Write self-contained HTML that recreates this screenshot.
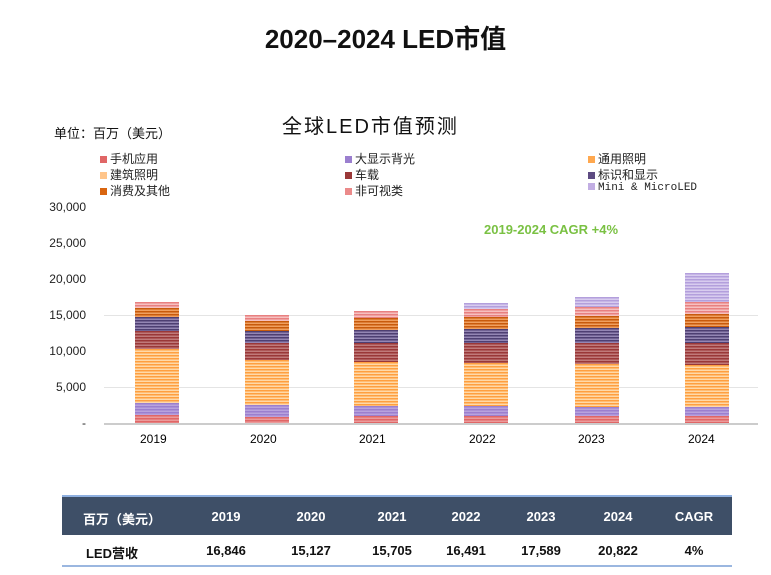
<!DOCTYPE html><html><head><meta charset="utf-8"><style>
body{margin:0;width:771px;height:575px;background:#fff;position:relative;overflow:hidden;font-family:"Liberation Sans","Noto Sans CJK SC",sans-serif}
.a{position:absolute}
.t{white-space:nowrap}
.lg{position:absolute;font-size:12px;color:#222;white-space:nowrap}
.lg i{display:inline-block;width:7px;height:7px;margin-right:3px;vertical-align:0}
.yl{position:absolute;right:685px;font-size:12px;color:#222;text-align:right}
.c{position:absolute;transform:translateX(-50%);white-space:nowrap;font-weight:bold;font-size:13px}
</style></head><body>
<div class="a t" style="left:0;width:771px;top:19px;text-align:center;font-size:26px;font-weight:bold;color:#111">2020–2024 LED市值</div>
<div class="a t" style="left:282px;top:110px;font-size:20px;letter-spacing:2px;color:#111">全球LED市值预测</div>
<div class="a t" style="left:54px;top:123px;font-size:13px;color:#111">单位：百万（美元）</div>
<div class="lg" style="left:100px;top:150px"><i style="background:#e06666"></i>手机应用</div>
<div class="lg" style="left:100px;top:166px"><i style="background:#ffc58a"></i>建筑照明</div>
<div class="lg" style="left:100px;top:182px"><i style="background:#d9650f"></i>消费及其他</div>
<div class="lg" style="left:345px;top:150px"><i style="background:#9b7fcf"></i>大显示背光</div>
<div class="lg" style="left:345px;top:166px"><i style="background:#9a3838"></i>车载</div>
<div class="lg" style="left:345px;top:182px"><i style="background:#eb8a8a"></i>非可视类</div>
<div class="lg" style="left:588px;top:150px"><i style="background:#ffa84f"></i>通用照明</div>
<div class="lg" style="left:588px;top:166px"><i style="background:#5d4b82"></i>标识和显示</div>
<div class="lg" style="left:588px;top:182px;font-family:'Liberation Mono','Noto Sans CJK SC',monospace;font-size:11px"><i style="background:#c2aee3"></i>Mini &amp; MicroLED</div>
<div class="yl" style="top:200px">30,000</div>
<div class="yl" style="top:236px">25,000</div>
<div class="yl" style="top:272px">20,000</div>
<div class="yl" style="top:308px">15,000</div>
<div class="yl" style="top:344px">10,000</div>
<div class="yl" style="top:380px">5,000</div>
<div class="yl" style="top:416px">-</div>
<div class="a" style="left:104px;width:654px;top:315px;height:1px;background:#e4e4e4"></div>
<div class="a" style="left:104px;width:654px;top:387px;height:1px;background:#e4e4e4"></div>
<div class="a" style="left:104px;width:654px;top:423px;height:2px;background:#ccc"></div>
<div class="a t" style="left:484px;top:222px;font-size:13px;font-weight:bold;color:#7ac143">2019-2024 CAGR +4%</div>
<div id="bars"></div>
<div class="a t" style="left:140px;top:432px;font-size:12px">2019</div>
<div class="a t" style="left:250px;top:432px;font-size:12px">2020</div>
<div class="a t" style="left:359px;top:432px;font-size:12px">2021</div>
<div class="a t" style="left:469px;top:432px;font-size:12px">2022</div>
<div class="a t" style="left:578px;top:432px;font-size:12px">2023</div>
<div class="a t" style="left:688px;top:432px;font-size:12px">2024</div>
<div class="a" style="left:62px;width:670px;top:495px;height:2px;background:#8fb0e0"></div>
<div class="a" style="left:62px;width:670px;top:497px;height:38px;background:#3e4f67"></div>
<div class="a" style="left:62px;width:670px;top:565px;height:2px;background:#9bb7e0"></div>
<div style="color:#fff">
<div class="c" style="left:122px;top:509px">百万（美元）</div>
<div class="c" style="left:226px;top:509px">2019</div>
<div class="c" style="left:311px;top:509px">2020</div>
<div class="c" style="left:392px;top:509px">2021</div>
<div class="c" style="left:466px;top:509px">2022</div>
<div class="c" style="left:541px;top:509px">2023</div>
<div class="c" style="left:618px;top:509px">2024</div>
<div class="c" style="left:694px;top:509px">CAGR</div>
</div>
<div style="color:#111">
<div class="c" style="left:112px;top:543px">LED营收</div>
<div class="c" style="left:226px;top:543px">16,846</div>
<div class="c" style="left:311px;top:543px">15,127</div>
<div class="c" style="left:392px;top:543px">15,705</div>
<div class="c" style="left:466px;top:543px">16,491</div>
<div class="c" style="left:541px;top:543px">17,589</div>
<div class="c" style="left:618px;top:543px">20,822</div>
<div class="c" style="left:694px;top:543px">4%</div>
</div>
<script>
var cols=[["#e06666","#eb9a9a"],["#9b7fcf","#b8a3de"],["#ff9f3f","#ffd9a8"],["#9a3838","#c07a7a"],["#4e3f72","#9486b4"],["#c85a0c","#f0a060"],["#e88080","#f6c0c0"],["#b39fdc","#d8ccef"]];
var data=[[135,[415,403,349,331,317,308,302]],[245,[417,405,360,343,331,321,315]],[354,[416,406,362,343,330,318,311]],[464,[416,406,363,343,329,317,309,303]],[575,[416,407,364,343,328,316,307,297]],[685,[416,407,365,343,327,314,302,273]]];
var h="";data.forEach(function(d){var prev=423;d[1].forEach(function(t,i){var c=cols[i];h+='<div class="a" style="left:'+d[0]+'px;width:44px;top:'+t+'px;height:'+(prev-t)+'px;background:repeating-linear-gradient(to bottom,'+c[0]+' 0 1.5px,'+c[1]+' 1.5px 3px)"></div>';prev=t;});});
document.getElementById("bars").innerHTML=h;
</script>
</body></html>
